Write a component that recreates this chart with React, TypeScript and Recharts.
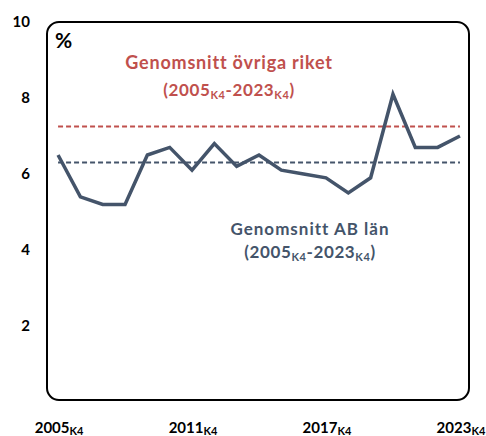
import React from "react";
import { ComposedChart, Line, XAxis, YAxis, ReferenceLine, ReferenceArea } from "recharts";

const years = [2005, 2006, 2007, 2008, 2009, 2010, 2011, 2012, 2013, 2014, 2015, 2016, 2017, 2018, 2019, 2020, 2021, 2022, 2023];
const abLan = [6.5, 5.4, 5.2, 5.2, 6.5, 6.7, 6.1, 6.8, 6.2, 6.5, 6.1, 6.0, 5.9, 5.5, 5.9, 8.1, 6.7, 6.7, 7.0];
const avgOvrigaRiket = 7.25;
const avgAbLan = 6.3;
const xTicks = [2005, 2011, 2017, 2023];
const yTicks = [2, 4, 6, 8, 10];
const X_DOMAIN: [number, number] = [2004.46, 2023.45];
const Y_DOMAIN: [number, number] = [0, 10];

const data = years.map((y, i) => ({ year: y, value: abLan[i] }));

const FONT = "Lato, 'Liberation Sans', sans-serif";
const RED = "#C0504D";
const SLATE = "#44546A";

const XTick = (props: any) => {
  const { x, y, payload } = props;
  return (
    <text x={x + 1} y={y + 31} textAnchor="middle" fontFamily={FONT} fontWeight={700} fontSize={15} fill="#000">
      <tspan>{payload.value}</tspan>
      <tspan fontSize={11} dy={2}>K4</tspan>
    </text>
  );
};

const YTick = (props: any) => {
  const { x, y, payload } = props;
  return (
    <text x={x} y={y} dy={5} textAnchor="end" fontFamily={FONT} fontWeight={700} fontSize={15} fill="#000">
      {payload.value}
    </text>
  );
};

const Period = ({ x, y, color }: { x: number; y: number; color: string }) => (
  <text x={x} y={y} textAnchor="middle" fontFamily={FONT} fontWeight={700} fontSize={17} letterSpacing={0.6} fill={color}>
    <tspan>(2005</tspan>
    <tspan fontSize={11} dy={3}>K4</tspan>
    <tspan dy={-3}>-2023</tspan>
    <tspan fontSize={11} dy={3}>K4</tspan>
    <tspan dy={-3}>)</tspan>
  </text>
);

export default function App() {
  return (
    <div style={{ position: "absolute", left: 0, top: 0 }}>
      <ComposedChart width={486} height={436} data={data} margin={{ top: 22, right: 16, left: 0, bottom: 0 }}>
        <XAxis
          dataKey="year"
          type="number"
          domain={X_DOMAIN}
          ticks={xTicks}
          axisLine={false}
          tickLine={false}
          tickSize={0}
          tickMargin={0}
          height={34}
          tick={<XTick />}
          interval={0}
        />
        <YAxis
          type="number"
          domain={Y_DOMAIN}
          ticks={yTicks}
          axisLine={false}
          tickLine={false}
          tickSize={0}
          tickMargin={16}
          width={46}
          tick={<YTick />}
          interval={0}
        />
        <ReferenceArea
          x1={X_DOMAIN[0]}
          x2={X_DOMAIN[1]}
          y1={Y_DOMAIN[0]}
          y2={Y_DOMAIN[1]}
          ifOverflow="visible"
          shape={(p: any) => (
            <rect x={p.x + 1} y={p.y} width={p.width - 2} height={p.height - 2} rx={12} ry={12} fill="none" stroke="#000" strokeWidth={2} />
          )}
        />
        <ReferenceLine
          segment={[{ x: years[0], y: avgOvrigaRiket }, { x: years[years.length - 1], y: avgOvrigaRiket }]}
          stroke={RED}
          strokeWidth={2}
          strokeDasharray="5 3"
        />
        <ReferenceLine
          segment={[{ x: years[0], y: avgAbLan }, { x: years[years.length - 1], y: avgAbLan }]}
          stroke={SLATE}
          strokeWidth={2}
          strokeDasharray="5 3"
        />
        <Line
          type="linear"
          dataKey="value"
          stroke={SLATE}
          strokeWidth={3.5}
          dot={false}
          isAnimationActive={false}
          strokeLinejoin="miter"
        />
        <text x={55} y={48} fontFamily={FONT} fontWeight={700} fontSize={21} fill="#000">%</text>
        <text x={229} y={69} textAnchor="middle" fontFamily={FONT} fontWeight={700} fontSize={18} letterSpacing={0.8} fill={RED}>
          Genomsnitt övriga riket
        </text>
        <Period x={229} y={96} color={RED} />
        <text x={310} y={235} textAnchor="middle" fontFamily={FONT} fontWeight={700} fontSize={17} letterSpacing={1} fill={SLATE}>
          Genomsnitt AB län
        </text>
        <Period x={310} y={258} color={SLATE} />
      </ComposedChart>
    </div>
  );
}
